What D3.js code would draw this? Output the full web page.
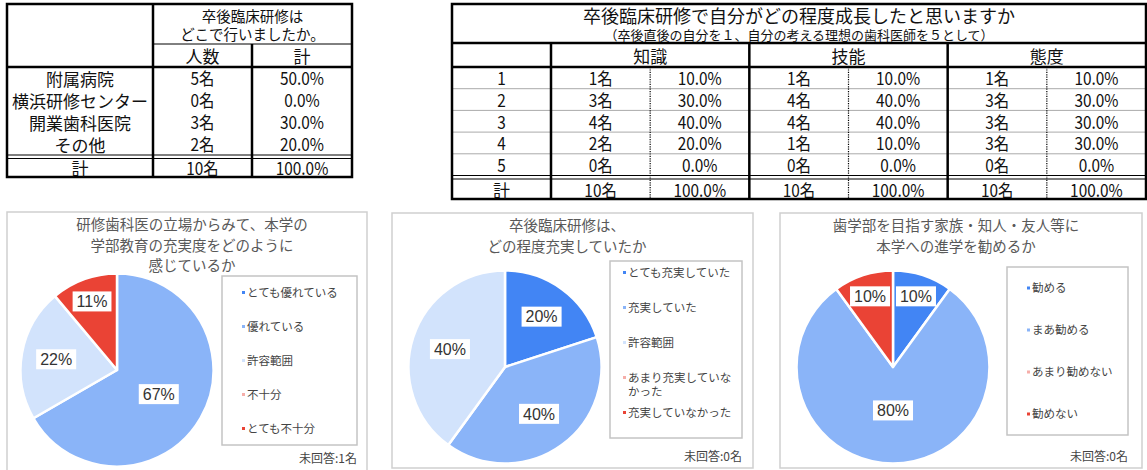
<!DOCTYPE html>
<html>
<head>
<meta charset="utf-8">
<script src="https://cdn.jsdelivr.net/npm/d3@7"></script>
<style>
  body { margin: 0; background: #fff; }
  svg { display: block; font-family: "Noto Sans CJK JP", "Noto Sans", sans-serif; }
</style>
</head>
<body>
<svg id="chart" width="1147" height="470"></svg>
<script>
// ---- table 1: 卒後臨床研修はどこで行いましたか
const placeTitle = ["卒後臨床研修は", "どこで行いましたか。"];
const placeLabels = ["附属病院", "横浜研修センター", "開業歯科医院", "その他"];
const placeCounts = [5, 0, 3, 2];

// ---- table 2: 成長の程度
const growthTitle = "卒後臨床研修で自分がどの程度成長したと思いますか";
const growthSubtitle = "（卒後直後の自分を１、自分の考える理想の歯科医師を５として）";
const growthLevels = ["1", "2", "3", "4", "5"];
const growthAspects = ["知識", "技能", "態度"];
const knowledgeCounts = [1, 3, 4, 2, 0];
const skillCounts = [1, 4, 4, 1, 0];
const attitudeCounts = [1, 3, 3, 3, 0];

// ---- pie 1
const educationTitle = ["研修歯科医の立場からみて、本学の", "学部教育の充実度をどのように", "感じているか"];
const educationLabels = ["とても優れている", "優れている", "許容範囲", "不十分", "とても不十分"];
const educationValues = [0, 6, 2, 0, 1];
const educationNoAnswer = 1;

// ---- pie 2
const trainingTitle = ["卒後臨床研修は、", "どの程度充実していたか"];
const trainingLabels = ["とても充実していた", "充実していた", "許容範囲", "あまり充実していなかった", "充実していなかった"];
const trainingValues = [2, 4, 4, 0, 0];
const trainingNoAnswer = 0;

// ---- pie 3
const recommendTitle = ["歯学部を目指す家族・知人・友人等に", "本学への進学を勧めるか"];
const recommendLabels = ["勧める", "まあ勧める", "あまり勧めない", "勧めない"];
const recommendValues = [1, 8, 0, 1];
const recommendNoAnswer = 0;

const colors5 = ["#4285F4", "#8AB4F8", "#D2E3FC", "#F6AEA9", "#EA4335"];
const colors4 = ["#4285F4", "#8AB4F8", "#F6AEA9", "#EA4335"];

const svg = d3.select("#chart");
const pct = (n, t) => (n / t * 100).toFixed(1) + "%";

function line(g, x1, y1, x2, y2, w, opt) {
  const l = g.append("line")
    .attr("x1", x1).attr("y1", y1).attr("x2", x2).attr("y2", y2)
    .attr("stroke", (opt && opt.color) || "#000")
    .attr("stroke-width", w);
  if (opt && opt.dash) l.attr("stroke-dasharray", opt.dash);
  return l;
}

function cell(g, x, y, txt, size, sx) {
  g.append("text")
    .attr("transform", `translate(${x},${y}) scale(${sx || 1},1)`)
    .attr("text-anchor", "middle")
    .attr("dominant-baseline", "central")
    .style("font-size", size + "px")
    .attr("fill", "#111")
    .text(txt);
}

// ================= table 1
{
  const g = svg.append("g");
  const left = 7, right = 352, top = 4, bottom = 177;
  const c1 = 153, c2 = 252;
  const rows = d3.scaleBand().domain(placeLabels).range([67, 155]);
  const total = d3.sum(placeCounts);

  line(g, c1, 44, right, 44, 1);
  line(g, left, 67, right, 67, 2.5);
  line(g, left, 155, right, 155, 1.2);
  line(g, left, 158.5, right, 158.5, 1.2);
  line(g, c1, top, c1, bottom, 2.5);
  line(g, c2, 44, c2, bottom, 2.5);
  g.append("rect").attr("x", left).attr("y", top)
    .attr("width", right - left).attr("height", bottom - top)
    .attr("fill", "none").attr("stroke", "#000").attr("stroke-width", 2.5);

  cell(g, (c1 + right) / 2, 15.5, placeTitle[0], 14.5);
  cell(g, (c1 + right) / 2, 33, placeTitle[1], 14.5);
  cell(g, (c1 + c2) / 2, 55.5, "人数", 17);
  cell(g, (c2 + right) / 2, 55.5, "計", 17);

  placeLabels.forEach((lab, i) => {
    const yc = rows(lab) + rows.bandwidth() / 2;
    cell(g, (left + c1) / 2, yc, lab, 17);
    cell(g, (c1 + c2) / 2, yc, placeCounts[i] + "名", 17.5, 0.88);
    cell(g, (c2 + right) / 2, yc, pct(placeCounts[i], total), 17.5, 0.88);
  });
  cell(g, (left + c1) / 2, 167.5, "計", 17);
  cell(g, (c1 + c2) / 2, 167.5, total + "名", 17.5, 0.88);
  cell(g, (c2 + right) / 2, 167.5, pct(total, total), 17.5, 0.88);
}

// ================= table 2
{
  const g = svg.append("g");
  const left = 452, right = 1146, top = 4, bottom = 199;
  const c0 = 551, gw = (right - c0) / 3;
  const rows = d3.scaleBand().domain(growthLevels).range([67, 175.5]);
  const series = [knowledgeCounts, skillCounts, attitudeCounts];

  growthLevels.slice(1).forEach(lv => line(g, left, rows(lv), right, rows(lv), 1, {color: "#aaa"}));
  line(g, left, 43, right, 43, 2.5);
  line(g, left, 67, right, 67, 2.5);
  line(g, left, 175.5, right, 175.5, 1.2);
  line(g, left, 179, right, 179, 1.2);
  line(g, c0, 43, c0, bottom, 2.5);
  growthAspects.forEach((a, k) => {
    const gx = c0 + k * gw;
    if (k > 0) line(g, gx, 43, gx, bottom, 2.5);
    line(g, gx + gw / 2, 67, gx + gw / 2, bottom, 1.2, {dash: "1.2,1.2"});
  });
  g.append("rect").attr("x", left).attr("y", top)
    .attr("width", right - left).attr("height", bottom - top)
    .attr("fill", "none").attr("stroke", "#000").attr("stroke-width", 2.5);

  cell(g, (left + right) / 2, 15, growthTitle, 18);
  cell(g, (left + right) / 2, 34, growthSubtitle, 13);

  growthAspects.forEach((a, k) => {
    const gx = c0 + k * gw;
    const total = d3.sum(series[k]);
    cell(g, gx + gw / 2, 55.5, a, 17);
    growthLevels.forEach((lv, i) => {
      const yc = rows(lv) + rows.bandwidth() / 2;
      cell(g, gx + gw / 4, yc, series[k][i] + "名", 17.5, 0.88);
      cell(g, gx + gw * 3 / 4, yc, pct(series[k][i], total), 17.5, 0.88);
    });
    cell(g, gx + gw / 4, 189.5, total + "名", 17.5, 0.88);
    cell(g, gx + gw * 3 / 4, 189.5, pct(total, total), 17.5, 0.88);
  });
  growthLevels.forEach(lv => cell(g, (left + c0) / 2, rows(lv) + rows.bandwidth() / 2, lv, 17.5, 0.88));
  cell(g, (left + c0) / 2, 189.5, "計", 17);
}

// ================= pies
const panels = [
  {x: 7, y: 212, w: 360, h: 262, title: educationTitle, titleX: 185, labels: educationLabels,
   values: educationValues, colors: colors5, noAnswer: educationNoAnswer, cx: 110, cy: 158,
   legend: {x: 215, y: 64, w: 135, h: 169, step: 34, dx: 25}},
  {x: 392, y: 213, w: 361, h: 255, title: trainingTitle, titleX: 175, labels: trainingLabels,
   values: trainingValues, colors: colors5, noAnswer: trainingNoAnswer, cx: 113, cy: 154,
   legend: {x: 218, y: 48, w: 132, h: 177, step: 35, dx: 18}},
  {x: 780, y: 213, w: 362, h: 255, title: recommendTitle, titleX: 176, labels: recommendLabels,
   values: recommendValues, colors: colors4, noAnswer: recommendNoAnswer, cx: 113, cy: 154,
   legend: {x: 227, y: 54, w: 121, h: 168, step: 42, dx: 25}}
];

const R = 96.5;
const pie = d3.pie().sort(null).value(d => d.value);
const arc = d3.arc().innerRadius(0).outerRadius(R);
const labelFrac = d3.scaleLinear().domain([36, 72, 144, 240, 288]).range([0.77, 0.645, 0.6, 0.5, 0.45]).clamp(true);

panels.forEach(p => {
  const g = svg.append("g").attr("transform", `translate(${p.x},${p.y})`);
  g.append("rect").attr("x", 0).attr("y", 0).attr("width", p.w).attr("height", p.h)
    .attr("fill", "#fff").attr("stroke", "#cfcfcf").attr("stroke-width", 1.5);

  // title
  g.append("text").attr("text-anchor", "middle").attr("fill", "#595959").style("font-size", "14.5px")
    .selectAll("tspan").data(p.title).join("tspan")
      .attr("x", p.titleX).attr("y", (d, i) => 18 + i * 20.5).text(d => d);

  const data = p.labels.map((l, i) => ({label: l, value: p.values[i], color: p.colors[i]}));
  const total = d3.sum(p.values);
  const arcs = pie(data);
  const pg = g.append("g").attr("transform", `translate(${p.cx},${p.cy})`);
  pg.selectAll("path").data(arcs.filter(a => a.data.value > 0)).join("path")
    .attr("d", arc).attr("fill", d => d.data.color)
    .attr("stroke", "#fff").attr("stroke-width", 2.5).attr("stroke-linejoin", "round");

  arcs.filter(a => a.data.value > 0).forEach(a => {
    const span = (a.endAngle - a.startAngle) * 180 / Math.PI;
    const mid = (a.startAngle + a.endAngle) / 2;
    const r = R * labelFrac(span);
    const lx = Math.sin(mid) * r, ly = -Math.cos(mid) * r;
    const lg = pg.append("g").attr("transform", `translate(${lx},${ly})`);
    const rect = lg.append("rect").attr("fill", "#fff");
    const t = lg.append("text").attr("text-anchor", "middle").attr("dy", "0.36em")
      .style("font-family", "'Liberation Sans', Arial, sans-serif").style("font-size", "16px")
      .attr("fill", "#333").text(Math.round(a.data.value / total * 100) + "%");
    const bb = t.node().getBBox();
    rect.attr("x", bb.x - 4).attr("y", -10).attr("width", bb.width + 8).attr("height", 20);
  });

  // legend
  const L = p.legend;
  const lg = g.append("g").attr("transform", `translate(${L.x},${L.y})`);
  lg.append("rect").attr("width", L.w).attr("height", L.h)
    .attr("fill", "#fff").attr("stroke", "#c4c4c4").attr("stroke-width", 1.5);
  const maxW = L.w - L.dx - 8;
  const items = [];
  data.forEach(d => {
    const t = lg.append("text").style("font-size", "11.5px").attr("fill", "#444");
    // wrap by measured width
    const lines = [];
    let cur = "";
    for (const ch of d.label) {
      t.text(cur + ch);
      if (t.node().getComputedTextLength() > maxW && cur) { lines.push(cur); cur = ch; }
      else cur += ch;
    }
    lines.push(cur);
    t.text(null);
    items.push({t, lines, color: d.color});
  });
  const extra = d3.sum(items, it => it.lines.length - 1) * 14;
  const y0 = (L.h - (items.length - 1) * L.step - extra) / 2;
  let yy = y0;
  items.forEach(it => {
    lg.append("rect").attr("x", L.dx - 5).attr("y", yy - 1.5).attr("width", 3).attr("height", 3).attr("fill", it.color);
    it.t.selectAll("tspan").data(it.lines).join("tspan")
      .attr("x", L.dx).attr("y", (d, i) => yy + i * 14).attr("dy", "0.35em").text(d => d);
    yy += L.step;
  });

  g.append("text").attr("x", L.x + L.w).attr("y", p.h - (p.h > 258 ? 17 : 13))
    .attr("text-anchor", "end").attr("dominant-baseline", "central")
    .style("font-size", "12px").attr("fill", "#444")
    .text(`未回答:${p.noAnswer}名`);
});
</script>
</body>
</html>
